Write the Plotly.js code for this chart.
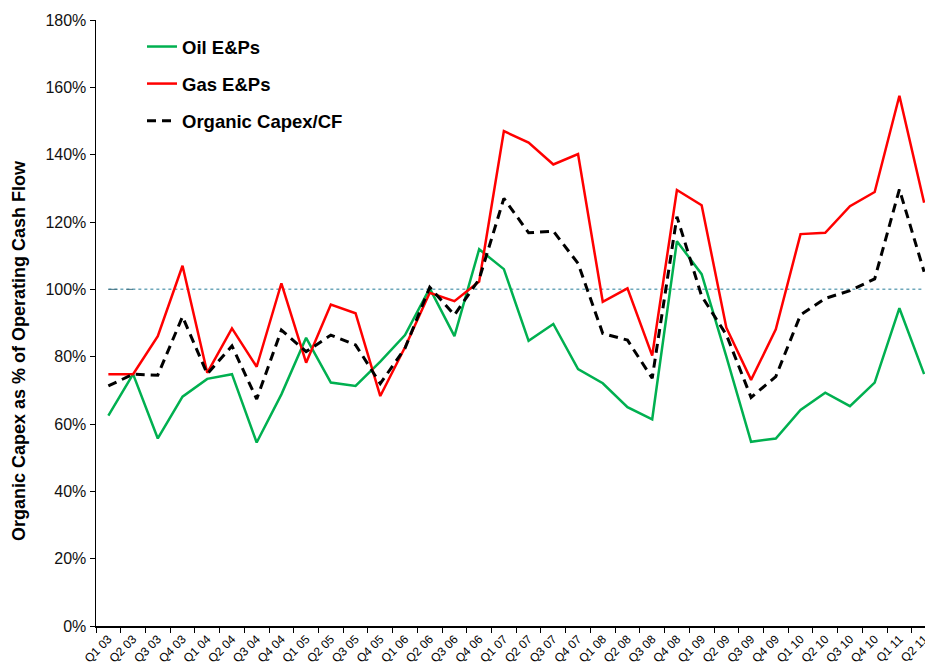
<!DOCTYPE html>
<html>
<head>
<meta charset="utf-8">
<script src="https://cdn.plot.ly/plotly-3.0.1.min.js"></script>
<style>
html,body{margin:0;padding:0;background:#fff;overflow:hidden;}
#chart{width:925px;height:666px;}
</style>
</head>
<body>
<div id="chart"></div>
<script>
var categories = ['Q1 03','Q2 03','Q3 03','Q4 03','Q1 04','Q2 04','Q3 04','Q4 04',
  'Q1 05','Q2 05','Q3 05','Q4 05','Q1 06','Q2 06','Q3 06','Q4 06',
  'Q1 07','Q2 07','Q3 07','Q4 07','Q1 08','Q2 08','Q3 08','Q4 08',
  'Q1 09','Q2 09','Q3 09','Q4 09','Q1 10','Q2 10','Q3 10','Q4 10',
  'Q1 11','Q2 11'];

var oilEPs = [62.5, 74.8, 55.7, 68.1, 73.4, 74.8, 54.5, 68.8, 85.6, 72.3, 71.3, 78.5,
  86.4, 100.3, 86.1, 111.9, 106.0, 84.7, 89.7, 76.3, 72.1, 65.0, 61.4, 114.3,
  104.5, 80.0, 54.7, 55.7, 64.2, 69.3, 65.3, 72.3, 94.4, 74.8];

var gasEPs = [74.8, 74.8, 86.1, 107.0, 75.2, 88.4, 77.0, 101.8, 78.2, 95.5, 92.9, 68.3,
  82.8, 99.0, 96.5, 102.3, 147.0, 143.6, 137.1, 140.2, 96.3, 100.3, 80.3, 129.5,
  125.0, 88.6, 73.1, 88.1, 116.4, 116.8, 124.7, 128.9, 157.5, 125.7];

var organicCapexCF = [71.3, 74.8, 74.5, 91.9, 74.9, 83.2, 67.4, 87.9, 81.5, 86.4, 83.5, 72.0,
  82.5, 100.6, 92.4, 103.0, 127.0, 116.8, 117.3, 107.7, 86.9, 84.9, 73.6, 121.6,
  98.0, 86.5, 67.9, 74.1, 92.4, 97.3, 99.6, 103.1, 129.7, 105.2];

var referenceLevel = 100;

var font = 'Arial, "Liberation Sans", sans-serif';

var traces = [
  {x: categories, y: oilEPs, name: 'Oil E&Ps', type: 'scatter', mode: 'lines',
   line: {color: '#00b050', width: 2.5}, legendgroup: 'a'},
  {x: categories, y: gasEPs, name: 'Gas E&Ps', type: 'scatter', mode: 'lines',
   line: {color: '#ff0000', width: 2.5}, legendgroup: 'b'},
  {x: categories, y: organicCapexCF, name: 'Organic Capex/CF', type: 'scatter', mode: 'lines',
   line: {color: '#000000', width: 3, dash: '9px,6px'}, legendgroup: 'c'}
];

var plotW = 829;
var layout = {
  width: 925, height: 666,
  margin: {l: 96, r: 0, t: 20, b: 40, pad: 0},
  paper_bgcolor: '#fff', plot_bgcolor: '#fff',
  font: {family: font, color: '#000'},
  showlegend: true,
  legend: {
    x: (142 - 96) / plotW, y: (626 - 28) / 606, xanchor: 'left', yanchor: 'top',
    bgcolor: 'rgba(0,0,0,0)', borderwidth: 0,
    font: {family: font, size: 18.5, color: '#000', weight: 'bold'},
    tracegroupgap: 10
  },
  xaxis: {
    type: 'category',
    range: [-0.5, -0.5 + plotW / 24.72],
    showline: true, linecolor: '#000', linewidth: 1.5,
    ticks: 'outside', tickson: 'boundaries', ticklen: 5, tickcolor: '#000', tickwidth: 1,
    tickangle: -45, ticklabelstandoff: 0,
    tickfont: {family: font, size: 12, color: '#000'},
    showgrid: false, zeroline: false, fixedrange: true
  },
  yaxis: {
    range: [0, 180], dtick: 20, ticksuffix: '%',
    showline: true, linecolor: '#000', linewidth: 1.5,
    ticks: 'outside', ticklen: 5, tickcolor: '#000', tickwidth: 1,
    tickfont: {family: font, size: 16, color: '#111'},
    showgrid: false, zeroline: false, fixedrange: true
  },
  shapes: [
    {type: 'line', xref: 'x', yref: 'y', x0: 0, x1: categories.length - 1,
     y0: referenceLevel, y1: referenceLevel, layer: 'below',
     line: {color: '#6fa8bb', width: 1.5, dash: 'dot'}},
    {type: 'line', xref: 'x', yref: 'y', x0: 0, x1: 1,
     y0: referenceLevel, y1: referenceLevel, layer: 'below',
     line: {color: '#3f6f80', width: 1, dash: 'dash'}}
  ],
  annotations: [
    {text: 'Organic Capex as % of Operating Cash Flow', textangle: -90,
     xref: 'paper', yref: 'paper', x: (19 - 96) / plotW, y: (626 - 351) / 606,
     xanchor: 'center', yanchor: 'middle', showarrow: false,
     font: {family: font, size: 18, color: '#000', weight: 'bold'}}
  ]
};

Plotly.newPlot('chart', traces, layout, {staticPlot: true, displayModeBar: false});
</script>
</body>
</html>
